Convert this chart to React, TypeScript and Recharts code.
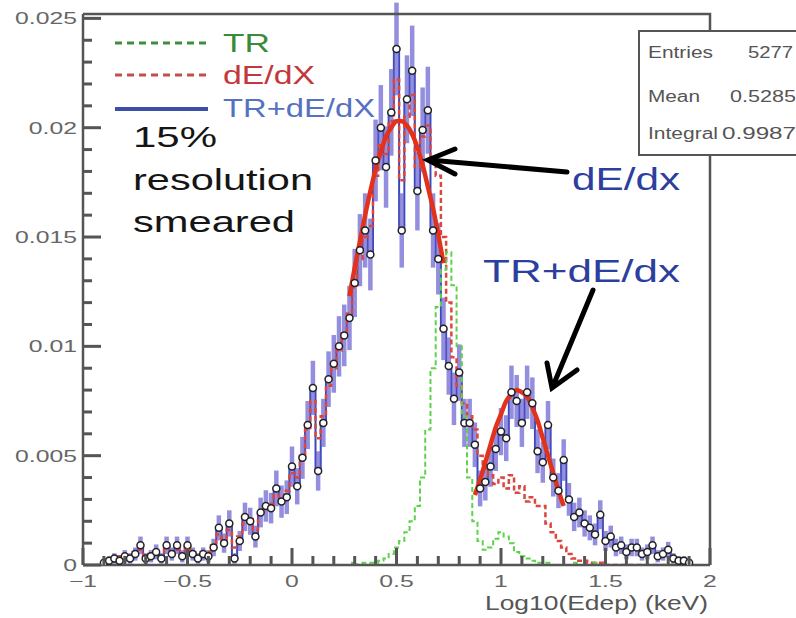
import { ComposedChart, Line, XAxis, YAxis, ErrorBar } from 'recharts';

// bin centres, Log10(Edep) (keV)
const bins = [
  -0.9, -0.875, -0.85, -0.825, -0.8, -0.775, -0.75, -0.725, -0.7, -0.675,
  -0.65, -0.625, -0.6, -0.575, -0.55, -0.525, -0.5, -0.475, -0.45, -0.425,
  -0.4, -0.375, -0.35, -0.325, -0.3, -0.275, -0.25, -0.225, -0.2, -0.175,
  -0.15, -0.125, -0.1, -0.075, -0.05, -0.025, 0, 0.025, 0.05, 0.075,
  0.1, 0.125, 0.15, 0.175, 0.2, 0.225, 0.25, 0.275, 0.3, 0.325,
  0.35, 0.375, 0.4, 0.425, 0.45, 0.475, 0.5, 0.525, 0.55, 0.575,
  0.6, 0.625, 0.65, 0.675, 0.7, 0.725, 0.75, 0.775, 0.8, 0.825,
  0.85, 0.875, 0.9, 0.925, 0.95, 0.975, 1, 1.025, 1.05, 1.075,
  1.1, 1.125, 1.15, 1.175, 1.2, 1.225, 1.25, 1.275, 1.3, 1.325,
  1.35, 1.375, 1.4, 1.425, 1.45, 1.475, 1.5, 1.525, 1.55, 1.575,
  1.6, 1.625, 1.65, 1.675, 1.7, 1.725, 1.75, 1.775, 1.8, 1.825,
  1.85, 1.875, 1.9,
];

// smeared TR+dE/dX points
const total = [
  0.0001, 0.0002, 0.0003, 0.0002, 0.0004, 0.0003, 0.0005, 0.0009, 0.0003, 0.0004,
  0.0006, 0.0003, 0.0009, 0.0005, 0.0009, 0.0004, 0.0009, 0.0005, 0.0003, 0.0005,
  0.0004, 0.0008, 0.0017, 0.001, 0.0019, 0.0003, 0.0011, 0.0022, 0.002, 0.0013,
  0.0024, 0.0027, 0.0026, 0.0035, 0.0029, 0.0031, 0.0045, 0.0036, 0.0049, 0.0064,
  0.0081, 0.0043, 0.0065, 0.0085, 0.0092, 0.01, 0.0105, 0.0113, 0.0129, 0.0144,
  0.0153, 0.0142, 0.0185, 0.02, 0.0182, 0.0207, 0.0236, 0.0153, 0.0213, 0.0226,
  0.0171, 0.0199, 0.0208, 0.0153, 0.014, 0.0108, 0.0091, 0.0076, 0.0088, 0.0065,
  0.0065, 0.0055, 0.0035, 0.0038, 0.0045, 0.0053, 0.0061, 0.0058, 0.0079, 0.0075,
  0.0065, 0.0079, 0.0074, 0.0052, 0.0047, 0.0064, 0.004, 0.0034, 0.0048, 0.003,
  0.0022, 0.0024, 0.0019, 0.0017, 0.0014, 0.0023, 0.0011, 0.0013, 0.0008, 0.0009,
  0.0006, 0.0008, 0.0008, 0.0005, 0.0006, 0.0009, 0.0004, 0.0005, 0.0007, 0.0003,
  0.0002, 0.0002, 0.0001,
];

const totalErr = [
  0.00014, 0.0002, 0.00024, 0.0002, 0.00028, 0.00024, 0.0003, 0.0004, 0.00024, 0.00028,
  0.00034, 0.00024, 0.0004, 0.0003, 0.0004, 0.00028, 0.0004, 0.0003, 0.00024, 0.0003,
  0.00028, 0.0004, 0.00057, 0.00044, 0.0006, 0.00024, 0.00046, 0.00065, 0.00062, 0.0005,
  0.00068, 0.00072, 0.0007, 0.00082, 0.00074, 0.00077, 0.00092, 0.00083, 0.00096, 0.0011,
  0.00124, 0.0009, 0.0011, 0.00127, 0.00132, 0.00138, 0.00141, 0.00147, 0.00156, 0.00165,
  0.0017, 0.00164, 0.00187, 0.00195, 0.00186, 0.00198, 0.00212, 0.0017, 0.00201, 0.00207,
  0.0018, 0.00194, 0.00199, 0.0017, 0.00163, 0.00143, 0.00131, 0.0012, 0.00129, 0.0011,
  0.0011, 0.00102, 0.00082, 0.00085, 0.00092, 0.001, 0.00108, 0.00105, 0.00122, 0.00119,
  0.0011, 0.00122, 0.00118, 0.001, 0.00094, 0.0011, 0.00087, 0.0008, 0.00095, 0.00075,
  0.00065, 0.00068, 0.0006, 0.00057, 0.0005, 0.00066, 0.00046, 0.0005, 0.0004, 0.0004,
  0.00034, 0.0004, 0.0004, 0.0003, 0.00034, 0.0004, 0.00028, 0.0003, 0.00036, 0.00024,
  0.0002, 0.0002, 0.00014,
];

const dEdX = [
  0.0001, 0.0003, 0.0002, 0.0004, 0.0003, 0.0004, 0.0006, 0.0007, 0.0004, 0.0005,
  0.0005, 0.0004, 0.0008, 0.0006, 0.0007, 0.0005, 0.0008, 0.0006, 0.0004, 0.0006,
  0.0006, 0.0009, 0.0014, 0.0012, 0.0016, 0.0008, 0.0013, 0.0019, 0.0021, 0.0016,
  0.0023, 0.0026, 0.0028, 0.0032, 0.0031, 0.0034, 0.0042, 0.004, 0.005, 0.0062,
  0.0075, 0.0058, 0.0068, 0.0082, 0.009, 0.0098, 0.0106, 0.0115, 0.0127, 0.014,
  0.015, 0.0155, 0.0178, 0.0192, 0.0188, 0.0203, 0.0222, 0.0176, 0.0205, 0.0215,
  0.0182, 0.0196, 0.0201, 0.0184, 0.0178, 0.015, 0.012, 0.0095, 0.0082, 0.0074,
  0.0068, 0.0062, 0.005, 0.0044, 0.0041, 0.0037, 0.004, 0.0035, 0.0041, 0.0033,
  0.0036, 0.0029, 0.0031, 0.0027, 0.0027, 0.0019, 0.0015, 0.0011, 0.0008, 0.0005,
  0.0003, 0.0002, 0.0002, 0.0001, 0.0001, 0.0001, 0, 0, 0, 0,
  0, 0, 0, 0, 0, 0, 0, 0, 0, 0,
  0, 0, 0,
];

const tr = [
  0, 0, 0, 0, 0, 0, 0, 0, 0, 0,
  0, 0, 0, 0, 0, 0, 0, 0, 0, 0,
  0, 0, 0, 0, 0, 0, 0, 0, 0, 0,
  0, 0, 0, 0, 0, 0, 0, 0, 0, 0,
  0, 0, 0, 0, 0, 0, 0, 0, 0.0001, 0,
  0.0001, 0.0001, 0.0001, 0.0002, 0.0003, 0.0005, 0.0008, 0.0011, 0.0015, 0.002,
  0.0027, 0.004, 0.0062, 0.009, 0.0118, 0.0135, 0.0143, 0.0128, 0.01, 0.0068,
  0.004, 0.002, 0.0011, 0.0007, 0.0008, 0.0012, 0.0015, 0.0013, 0.001, 0.0006,
  0.0004, 0.0003, 0.0002, 0.0001, 0.0001, 0.0001, 0, 0, 0, 0,
  0.0001, 0, 0, 0, 0.0001, 0, 0, 0, 0, 0,
  0, 0, 0, 0, 0, 0, 0, 0, 0, 0,
  0, 0, 0,
];

// gaussian fits drawn over the two peaks
const fit1X = [0.275, 0.3, 0.325, 0.35, 0.375, 0.4, 0.425, 0.45, 0.475, 0.5, 0.525, 0.55, 0.575, 0.6, 0.625, 0.65, 0.675, 0.7, 0.725];
const fit1Y = [0.0123, 0.0136, 0.0148, 0.016, 0.0171, 0.0181, 0.0189, 0.0196, 0.02, 0.0203, 0.0203, 0.0201, 0.0197, 0.0191, 0.0183, 0.0173, 0.0163, 0.0151, 0.0138];
const fit2X = [0.875, 0.9, 0.925, 0.95, 0.975, 1, 1.025, 1.05, 1.075, 1.1, 1.125, 1.15, 1.175, 1.2, 1.225, 1.25, 1.275, 1.3];
const fit2Y = [0.0032, 0.0039, 0.0047, 0.0055, 0.0063, 0.0069, 0.0075, 0.0078, 0.008, 0.0079, 0.0077, 0.0072, 0.0066, 0.0058, 0.005, 0.0042, 0.0034, 0.0027];

const xTicks = [
  -1, -0.9, -0.8, -0.7, -0.6, -0.5, -0.4, -0.3, -0.2, -0.1,
  0, 0.1, 0.2, 0.3, 0.4, 0.5, 0.6, 0.7, 0.8, 0.9,
  1, 1.1, 1.2, 1.3, 1.4, 1.5, 1.6, 1.7, 1.8, 1.9, 2,
];
const yTicks = [
  0, 0.001, 0.002, 0.003, 0.004, 0.005, 0.006, 0.007, 0.008, 0.009,
  0.01, 0.011, 0.012, 0.013, 0.014, 0.015, 0.016, 0.017, 0.018, 0.019,
  0.02, 0.021, 0.022, 0.023, 0.024, 0.025,
];

const X_MIN = -1, X_MAX = 2;
const Y_MIN = 0, Y_MAX = 0.0252;
// plot frame in page pixels
const LEFT = 83, RIGHT = 710, TOP = 14, BOTTOM = 565;

const FONT = "'Liberation Sans', Arial, Helvetica, sans-serif";
const AXIS = '#555';

const isXMajor = (v: number) => Math.abs(v * 2 - Math.round(v * 2)) < 1e-6;
const isYMajor = (v: number) => Math.abs(v * 200 - Math.round(v * 200)) < 1e-6;

const pick = (xs: number[], ys: number[], x: number) => {
  const i = xs.findIndex((v) => Math.abs(v - x) < 1e-6);
  return i >= 0 ? ys[i] : null;
};

const XTick = (props: any) => {
  const { x, y, payload } = props;
  const v = Number(payload.value);
  if (!isXMajor(v)) return <g />;
  const label = String(Number(v.toFixed(1))).replace('-', '\u2212');
  return (
    <text transform={`translate(${x},${Number(y) + 22}) scale(1.5,1)`} textAnchor="middle"
      fontSize={16.5} fill="#666" fontFamily={FONT}>{label}</text>
  );
};

const YTick = (props: any) => {
  const { x, y, payload } = props;
  const v = Number(payload.value);
  if (!isYMajor(v)) return <g />;
  const label = String(Number(v.toFixed(3)));
  return (
    <text transform={`translate(${Number(x) - 6},${Number(y) + 6}) scale(1.5,1)`} textAnchor="end"
      fontSize={16.5} fill="#666" fontFamily={FONT}>{label}</text>
  );
};

// ROOT style ticks pointing into the frame, drawn as thin filled bars
const TickMarks = () => {
  const sx = (v: number) => LEFT + ((v - X_MIN) / (X_MAX - X_MIN)) * (RIGHT - LEFT);
  const sy = (v: number) => BOTTOM - ((v - Y_MIN) / (Y_MAX - Y_MIN)) * (BOTTOM - TOP);
  return (
    <g fill={AXIS}>
      {xTicks.map((v, i) => {
        const len = isXMajor(v) ? 17 : 9;
        return <rect key={'xt' + i} x={sx(v) - 1.5} y={BOTTOM - len} width={3} height={len} />;
      })}
      {yTicks.map((v, i) => {
        const len = isYMajor(v) ? 18 : 9;
        return <rect key={'yt' + i} x={LEFT} y={sy(v) - 1.5} width={len} height={3} />;
      })}
      <path d={`M${LEFT},${TOP}H${RIGHT}V${BOTTOM}`} fill="none" stroke={AXIS} strokeWidth={2.5} />
    </g>
  );
};

const Overlay = () => (
  <svg width={796} height={618} style={{ position: 'absolute', left: 0, top: 0, pointerEvents: 'none' }}
    fontFamily={FONT}>
    <TickMarks />

    {/* legend */}
    <line x1={115} x2={208} y1={43} y2={43} stroke="#3d8f3d" strokeWidth={3} strokeDasharray="7 5" />
    <text x={223} y={52} fontSize={25} fill="#3a8a3a" textLength={47} lengthAdjust="spacingAndGlyphs">TR</text>
    <line x1={115} x2={208} y1={75} y2={75} stroke="#c0504d" strokeWidth={3} strokeDasharray="7 5" />
    <text x={223} y={84} fontSize={25} fill="#c4373a" textLength={92} lengthAdjust="spacingAndGlyphs">dE/dX</text>
    <line x1={115} x2={208} y1={109} y2={109} stroke="#3b4fa8" strokeWidth={4} />
    <text x={223} y={117} fontSize={25} fill="#5571c2" textLength={152} lengthAdjust="spacingAndGlyphs">TR+dE/dX</text>

    <text x={133} y={147} fontSize={30} fill="#151515" textLength={84} lengthAdjust="spacingAndGlyphs">15%</text>
    <text x={133} y={190} fontSize={30} fill="#151515" textLength={180} lengthAdjust="spacingAndGlyphs">resolution</text>
    <text x={133} y={232} fontSize={30} fill="#151515" textLength={162} lengthAdjust="spacingAndGlyphs">smeared</text>

    {/* annotations */}
    <text x={572} y={190} fontSize={32} fill="#2d3f9e" textLength={108} lengthAdjust="spacingAndGlyphs">dE/dx</text>
    <text x={483} y={282} fontSize={32} fill="#2d3f9e" textLength={197} lengthAdjust="spacingAndGlyphs">TR+dE/dx</text>
    <g stroke="#000" strokeWidth={5} strokeLinecap="round" fill="none">
      <line x1={567} y1={172} x2={429} y2={160} />
      <polyline points="455,149 428,160 455,174" />
      <line x1={593} y1={290} x2={553} y2={386} />
      <polyline points="547,363 552,388 577,370" />
    </g>

    {/* stats box */}
    <rect x={639} y={31} width={175} height={124} fill="#fff" stroke="#555" strokeWidth={2} />
    <g fontSize={16} fill="#555">
      <text x={648} y={58} textLength={65} lengthAdjust="spacingAndGlyphs">Entries</text>
      <text x={748} y={58} textLength={45} lengthAdjust="spacingAndGlyphs">5277</text>
      <text x={648} y={102} textLength={52} lengthAdjust="spacingAndGlyphs">Mean</text>
      <text x={730} y={102} textLength={66} lengthAdjust="spacingAndGlyphs">0.5285</text>
      <text x={648} y={139} textLength={70} lengthAdjust="spacingAndGlyphs">Integral</text>
      <text x={722} y={139} textLength={74} lengthAdjust="spacingAndGlyphs">0.9987</text>
    </g>

    <text x={485} y={610} fontSize={20} fill="#555" textLength={223} lengthAdjust="spacingAndGlyphs">Log10(Edep) (keV)</text>
  </svg>
);

const App = () => {
  const rows = bins.map((x, i) => ({
    x,
    total: total[i],
    err: totalErr[i],
    dEdX: dEdX[i],
    tr: tr[i],
    fit1: pick(fit1X, fit1Y, x),
    fit2: pick(fit2X, fit2Y, x),
  }));

  return (
    <div style={{ position: 'absolute', left: 0, top: 0, width: 796, height: 618, background: '#fff' }}>
      <ComposedChart width={796} height={618} data={rows}
        margin={{ top: TOP, right: 796 - RIGHT, bottom: 0, left: 0 }}>
        <XAxis dataKey="x" type="number" domain={[X_MIN, X_MAX]} allowDataOverflow ticks={xTicks} interval={0}
          height={618 - BOTTOM} tickSize={0} tickMargin={0} tick={<XTick />} tickLine={false}
          axisLine={{ stroke: AXIS, strokeWidth: 2.5 }} />
        <YAxis type="number" domain={[Y_MIN, Y_MAX]} allowDataOverflow ticks={yTicks} interval={0}
          width={LEFT} tickSize={0} tickMargin={0} tick={<YTick />} tickLine={false}
          axisLine={{ stroke: AXIS, strokeWidth: 2.5 }} />

        <Line dataKey="total" type="step" stroke="#3b48b8" strokeWidth={2} dot={false} isAnimationActive={false} />
        <Line dataKey="total" stroke="none" dot={false} activeDot={false} isAnimationActive={false}>
          <ErrorBar dataKey="err" direction="y" width={0} strokeWidth={4.5} stroke="#6f68d2" strokeOpacity={0.75} />
        </Line>
        <Line dataKey="dEdX" type="step" stroke="#d9473f" strokeWidth={2.5} strokeDasharray="5 3" dot={false} isAnimationActive={false} />
        <Line dataKey="tr" type="step" stroke="#5ed24c" strokeWidth={2} strokeDasharray="5 3" dot={false} isAnimationActive={false} />
        <Line dataKey="total" stroke="none" activeDot={false} isAnimationActive={false}
          dot={{ r: 3.5, fill: '#fff', stroke: '#222', strokeWidth: 1.5 }} />
        <Line dataKey="fit1" type="monotone" stroke="#e3321c" strokeWidth={4.5} dot={false} isAnimationActive={false} />
        <Line dataKey="fit2" type="monotone" stroke="#e3321c" strokeWidth={4.5} dot={false} isAnimationActive={false} />
      </ComposedChart>
      <Overlay />
    </div>
  );
};

export default App;
